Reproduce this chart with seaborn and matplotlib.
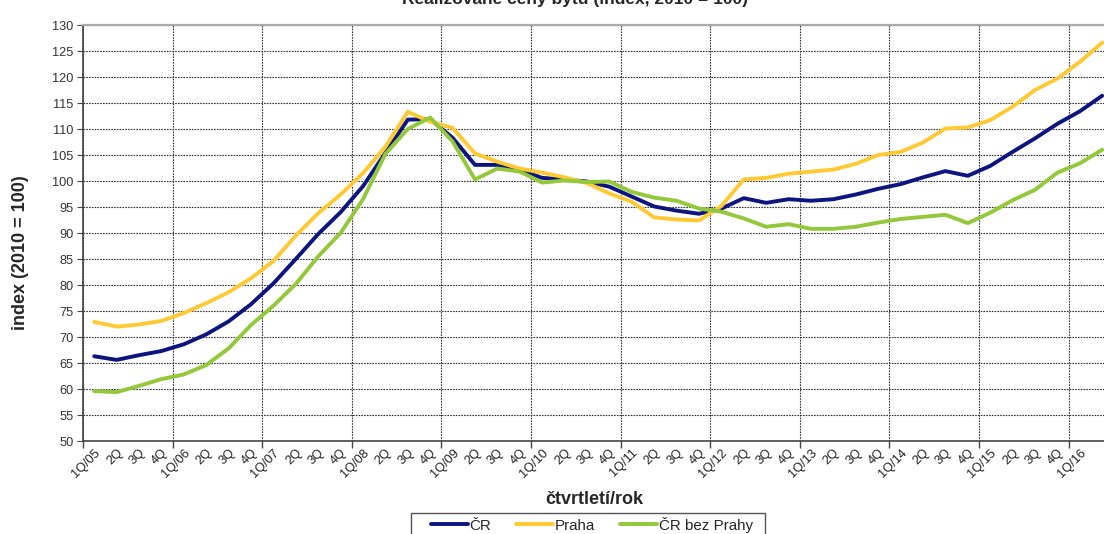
import numpy as np
import pandas as pd
import matplotlib
matplotlib.use("Agg")
import matplotlib.pyplot as plt
from matplotlib.patches import Rectangle
from matplotlib.ticker import FixedLocator, MultipleLocator
import seaborn as sns

# Quarter labels 1Q/05 .. 2Q/16
quarters = []
for yr in range(5, 17):
    for q in range(1, 5):
        quarters.append(f"1Q/{yr:02d}" if q == 1 else f"{q}Q")
quarters = quarters[:46]

cr = [66.3, 65.6, 66.5, 67.3, 68.6, 70.5, 73.0, 76.3, 80.3, 85.0,
      89.8, 94.0, 99.0, 105.4, 111.8, 111.9, 108.3, 103.1, 103.1, 102.1,
      100.6, 100.3, 99.9, 98.9, 97.0, 95.1, 94.3, 93.7, 94.7, 96.7,
      95.8, 96.5, 96.2, 96.5, 97.4, 98.5, 99.4, 100.7, 101.9, 101.0,
      102.9, 105.6, 108.2, 111.0, 113.4, 116.4]

praha = [72.9, 72.0, 72.4, 73.1, 74.6, 76.5, 78.6, 81.3, 84.6, 89.5,
         93.8, 97.4, 101.5, 106.6, 113.3, 111.4, 110.2, 105.3, 103.7, 102.4,
         101.6, 100.7, 99.6, 97.6, 96.0, 93.0, 92.6, 92.4, 95.2, 100.3,
         100.6, 101.4, 101.8, 102.2, 103.3, 105.0, 105.6, 107.4, 110.1, 110.3,
         111.7, 114.3, 117.5, 119.7, 122.9, 126.6]

cr_bez_prahy = [59.6, 59.4, 60.6, 61.9, 62.8, 64.6, 67.8, 72.3, 76.0, 80.2,
                85.5, 90.0, 96.5, 105.2, 110.0, 112.2, 107.6, 100.3, 102.4, 101.8,
                99.7, 100.1, 99.8, 99.9, 97.9, 96.8, 96.2, 94.7, 94.1, 92.8,
                91.2, 91.7, 90.8, 90.8, 91.2, 92.0, 92.7, 93.1, 93.5, 91.9,
                93.9, 96.3, 98.3, 101.6, 103.4, 106.0]

series_names = ["ČR", "Praha", "ČR bez Prahy"]
series_colors = ["#0c1480", "#ffc933", "#92c83a"]

df = pd.DataFrame({
    "idx": np.tile(np.arange(len(quarters)), 3),
    "value": cr + praha + cr_bez_prahy,
    "series": np.repeat(series_names, len(quarters)),
})

sns.set_style("white")
plt.rcParams["font.family"] = ["Liberation Sans", "DejaVu Sans"]

fig = plt.figure(figsize=(11.04, 5.34), dpi=100)
# plot area runs slightly past the right edge of the canvas
ax = fig.add_axes([83 / 1104, 93 / 534, 1030.4 / 1104, 416 / 534])

sns.lineplot(data=df, x="idx", y="value", hue="series",
             palette=dict(zip(series_names, series_colors)),
             linewidth=2.8, ax=ax, legend=False, zorder=3)

ax.set_xlim(-0.5, len(quarters) - 0.5)
ax.set_ylim(50, 130)
ax.yaxis.set_major_locator(MultipleLocator(5))

# labels at category centres, gridlines/ticks at year boundaries
ax.xaxis.set_major_locator(FixedLocator(np.arange(len(quarters))))
labels = list(quarters)
labels[-1] = ""
ax.set_xticklabels(labels, rotation=45, ha="right", rotation_mode="anchor",
                   fontsize=9.2, color="#222222")
ax.tick_params(axis="x", which="major", length=0, pad=4)
ax.xaxis.set_minor_locator(FixedLocator(np.arange(-0.5, len(quarters), 4)))
ax.tick_params(axis="x", which="minor", length=5, width=1, color="#444444",
               direction="out", bottom=True)
ax.tick_params(axis="y", length=4, width=0.8, color="#444444", direction="out",
               left=True, labelsize=9.2, labelcolor="#333333", pad=3)

grid_kw = dict(color="#333333", linestyle=(0, (1.5, 1.0)), linewidth=0.8)
ax.grid(False)
ax.yaxis.grid(True, which="major", **grid_kw)
ax.xaxis.grid(True, which="minor", **grid_kw)
ax.set_axisbelow(True)

for side in ["left", "bottom"]:
    ax.spines[side].set_color("#444444")
    ax.spines[side].set_linewidth(1.2)
ax.spines["top"].set_color("#aaaaaa")
ax.spines["top"].set_linewidth(1.6)
ax.spines["right"].set_visible(False)

ax.set_xlabel("")
ax.set_ylabel("")

fig.text(21 / 1104, 1 - 253 / 534, "index (2010 = 100)", rotation=90,
         ha="center", va="center", fontsize=13, fontweight="bold")
fig.text(594 / 1104, 1 - 500 / 534, "čtvrtletí/rok", ha="center", va="center",
         fontsize=13, fontweight="bold")
fig.text(575 / 1104, 1 - 4 / 534, "Realizované ceny bytů (index, 2010 = 100)",
         ha="center", va="baseline", fontsize=12.5, fontweight="bold")

# legend box drawn as a separate frame so it can be wider than its entries
fig.patches.append(Rectangle((411 / 1104, 1 - 545 / 534), 354 / 1104, 32 / 534,
                             transform=fig.transFigure, facecolor="white",
                             edgecolor="#555555", linewidth=1.0, zorder=1))
handles = [plt.Line2D([], [], color=c, linewidth=2.8) for c in series_colors]
leg = fig.legend(handles, series_names, loc="upper center",
                 bbox_to_anchor=(592 / 1104, 1 - 512 / 534), ncol=3,
                 fontsize=10.9, frameon=False,
                 handlelength=2.45, handletextpad=0.1, columnspacing=1.65,
                 borderpad=0.3, borderaxespad=0)
leg.set_zorder(2)

fig.savefig("out.png", dpi=100)
